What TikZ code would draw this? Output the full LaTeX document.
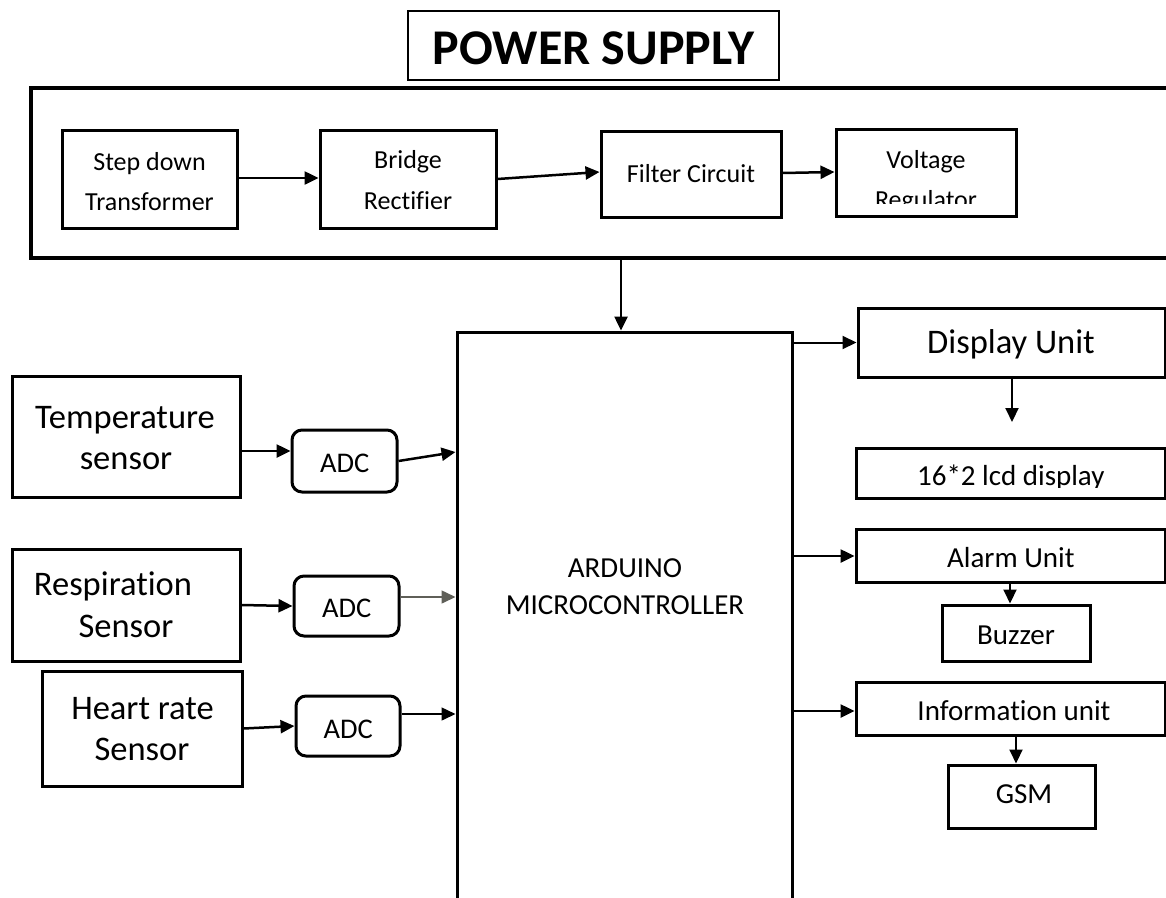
\documentclass[tikz,border=0pt]{standalone}
\usepackage{fontspec}
\setmainfont{Carlito}[Ligatures=NoCommon]
\usetikzlibrary{arrows.meta,calc}
\definecolor{gry}{RGB}{95,95,88}
\begin{document}
\begin{tikzpicture}[x=1pt,y=-1pt,
  box/.style={draw, line width=3pt, inner sep=0pt},
  rbox/.style={box, rounded corners=10pt},
  txt/.style={anchor=base, inner sep=0pt},
  arr/.style={line width=2.5pt, -{Triangle[length=14pt,width=13pt]}},
  fA/.style={font=\fontsize{26}{30}\selectfont},
  fB/.style={font=\fontsize{29}{34}\selectfont},
  fC/.style={font=\fontsize{34.5}{40}\selectfont},
  fD/.style={font=\fontsize{29}{34}\selectfont},
  fE/.style={font=\fontsize{28.5}{34}\selectfont}]
\useasboundingbox (0,0) rectangle (1166,897);
\clip (0,0) rectangle (1166,897);
% power supply
\node[box, line width=1.8pt, minimum width=371pt, minimum height=69pt] (title) at (593.5,45.5) {};
\node[txt, font=\fontsize{50}{54}\selectfont\bfseries] (titlet) at (593.5,64) {POWER SUPPLY};
\node[box, line width=3.2pt, minimum width=1169pt, minimum height=170pt] (ps) at (615.5,173) {};
\node[box, minimum width=175pt, minimum height=98pt] (sdt) at (149.5,179) {};
\node[txt, fA] at (149.5,170) {Step down};
\node[txt, fA] at (149.5,210) {Transformer};
\node[box, minimum width=176pt, minimum height=98pt] (bri) at (408,179) {};
\node[txt, fA] at (408,168) {Bridge};
\node[txt, fA] at (408,209) {Rectifier};
\node[box, minimum width=180pt, minimum height=86pt] (fil) at (691,174) {};
\node[txt, fA] at (691,182) {Filter Circuit};
\node[box, minimum width=180pt, minimum height=87pt] (vol) at (926,172.5) {};
\node[txt, fA] at (926,168) {Voltage};
\begin{scope}
\clip (830,120) rectangle (1020,203);
\node[txt, fA] (volt2) at (926,208) {Regulator};
\end{scope}
\draw[arr] (sdt.east |- 0,178) -- (bri.west |- 0,178);
\draw[arr] (bri.east |- 0,179) -- (fil.west |- 0,172);
\draw[arr] (fil.east |- 0,173) -- (vol.west |- 0,172);
% arduino
\node[box, minimum width=335pt, minimum height=588pt] (ard) at (624.5,626) {};
\node[txt, fD] at (625,577) {ARDUINO};
\node[txt, fD] at (625,614) {MICROCONTROLLER};
\draw[arr] (ps.south -| 621,0) -- (ard.north -| 621,0);
% outputs
\node[box, minimum width=307pt, minimum height=69pt] (disp) at (1011.5,342.5) {};
\node[txt, fC] at (1011,353) {Display Unit};
\node[box, minimum width=309pt, minimum height=50pt] (lcd) at (1010.5,473) {};
\begin{scope}
\clip (850,440) rectangle (1170,487);
\node[txt, fB] (lcdt) at (1010.8,485) {16*2 lcd display};
\end{scope}
\node[box, minimum width=309pt, minimum height=53pt] (alarm) at (1010.5,555.5) {};
\node[txt, fB] at (1010.8,567) {Alarm Unit};
\node[box, minimum width=148pt, minimum height=56pt] (buz) at (1016,633) {};
\node[txt, fB] at (1016,644) {Buzzer};
\node[box, minimum width=309pt, minimum height=53pt] (info) at (1010.5,708.5) {};
\node[txt, fB] at (1014,720) {Information unit};
\node[box, minimum width=147pt, minimum height=63pt] (gsm) at (1021.5,796.5) {};
\node[txt, fB] at (1024,803) {GSM};
\coordinate (lcdin) at (1012,422);
\draw[arr, line width=2pt] (ard.east |- disp.west) -- (disp.west);
\draw[arr, line width=2pt] (disp.south -| lcdin) -- (lcdin);
\draw[arr] (ard.east |- 0,556) -- (alarm.west |- 0,556);
\draw[arr, line width=2pt] (alarm.south -| 1010,0) -- (buz.north -| 1010,0);
\draw[arr] (ard.east |- 0,711) -- (info.west |- 0,711);
\draw[arr, line width=2pt] (info.south -| 1016,0) -- (gsm.north -| 1016,0);
% sensors
\node[box, minimum width=228pt, minimum height=121pt] (temp) at (126,436.5) {};
\node[txt, fC] at (125,428) {Temperature};
\node[txt, fC] at (126,469) {sensor};
\node[box, minimum width=228pt, minimum height=112pt] (resp) at (126,605) {};
\node[txt, fC] at (113,595) {Respiration};
\node[txt, fC] at (126,637) {Sensor};
\node[box, minimum width=200pt, minimum height=115pt] (heart) at (142,728.5) {};
\node[txt, fC] at (142.5,719) {Heart rate};
\node[txt, fC] at (142,760) {Sensor};
\node[rbox, minimum width=105pt, minimum height=62pt] (adc1) at (344.5,461) {};
\node[txt, fE] at (344.7,472) {ADC};
\node[rbox, minimum width=105pt, minimum height=60pt] (adc2) at (346.5,606) {};
\node[txt, fE] at (346.7,617) {ADC};
\node[rbox, minimum width=104pt, minimum height=60pt] (adc3) at (348,726) {};
\node[txt, fE] at (348.3,738) {ADC};
\draw[arr] (temp.east |- 0,451) -- (adc1.west |- 0,451);
\draw[arr] (adc1.east) -- (ard.west |- 0,452);
\draw[arr] (resp.east) -- (adc2.west);
\draw[arr, draw=gry, fill=gry, line width=1.6pt] (adc2.east |- 0,597) -- (ard.west |- 0,597);
\draw[arr] (heart.east) -- (adc3.west);
\draw[arr, line width=1.5pt] (adc3.east |- 0,714) -- (ard.west |- 0,714);
\end{tikzpicture}
\end{document}
